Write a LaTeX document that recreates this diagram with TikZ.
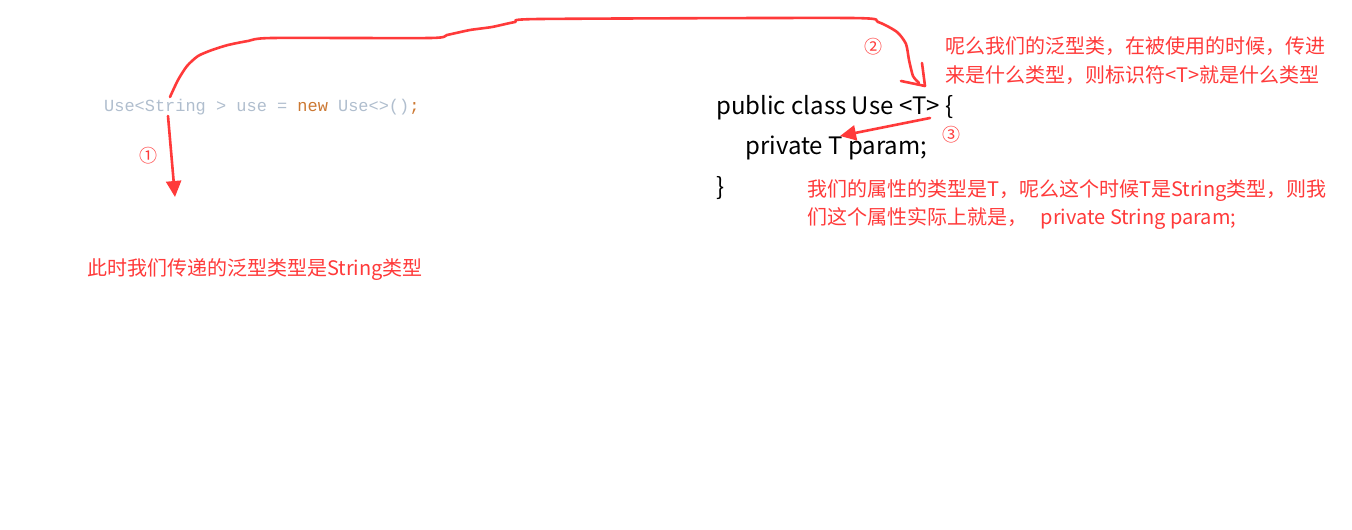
\documentclass[tikz,border=0pt]{standalone}
\usepackage{fontspec}
\newfontfamily\cjk{Noto Sans CJK SC}
\newfontfamily\codefont{Liberation Mono}
\usetikzlibrary{arrows.meta}
\definecolor{noteRed}{RGB}{255,58,58}
\definecolor{codeGray}{RGB}{176,190,206}
\definecolor{codeOrange}{RGB}{204,120,50}
\tikzset{
  note/.style={anchor=west, inner sep=0pt, text=noteRed, font=\cjk\fontsize{20}{22}\selectfont},
  javaline/.style={anchor=west, inner sep=0pt, text=black, font=\cjk\fontsize{24}{26}\selectfont},
  circnum/.style={inner sep=0pt, text=noteRed, font=\cjk\fontsize{18}{20}\selectfont},
  scribble/.style={draw=noteRed, line width=2.6pt, line cap=round, line join=round},
  redarrow/.style={draw=noteRed, line width=2.6pt, line cap=round, -{Triangle[length=16pt,width=15pt]}}
}
\begin{document}
\begin{tikzpicture}[x=1pt,y=-1pt]
\useasboundingbox (0,0) rectangle (1352,530);
\fill[white] (0,0) rectangle (1352,530);
% code line
\node[anchor=west, inner sep=0pt, font=\codefont\fontsize{16.95}{20}\selectfont] (use) at (104,107)
  {\textcolor{codeGray}{Use<String > use =\ }\textcolor{codeOrange}{new}\textcolor{codeGray}{\ Use<>()}\textcolor{codeOrange}{;}};
% java class
\node[javaline] (cls) at (716,108) {public class Use <T> \{};
\node[javaline] (fld) at (745,148) {private T param;};
\node[javaline] (end) at (716,188) {\}};
% notes
\node[note] (n2a) at (945,46) {呢么我们的泛型类，在被使用的时候，传进};
\node[note] (n2b) at (945,75) {来是什么类型，则标识符<T>就是什么类型};
\node[note] (n3a) at (807,191) {我们的属性的类型是T，呢么这个时候T是String类型，则我};
\node[note] (n3b) at (807,219) {们这个属性实际上就是，\ \ \ private String param;};
\node[note] (n1) at (87,270) {此时我们传递的泛型类型是String类型};
% circled numbers
\node[circnum] (c1) at (148,156) {①};
\node[circnum] (c2) at (873,47) {②};
\node[circnum] (c3) at (951,135) {③};
% arrow 1
\coordinate (a1s) at (168,116);
\coordinate (a1e) at (175,197);
\draw[redarrow] (a1s) -- (a1e);
% arrow 3
\coordinate (a3s) at (930,118);
\coordinate (a3e) at (840,136);
\draw[redarrow] (a3s) -- (a3e);
% hand-drawn curve 2
\coordinate (cs) at (170,97);
\coordinate (ce) at (919,83);
\draw[scribble] plot[smooth, tension=0.4] coordinates {(cs) (178,80) (187,66) (198,56) (212,50) (228,45) (248,41) (272,38) (430,38) (447,35) (470,30) (492,27) (515,22) (540,19) (850,18) (878,22) (897,32) (906,44) (909,60) (913,76) (ce)};
\coordinate (h1) at (901,81);
\coordinate (h2) at (925,86);
\coordinate (h3) at (922,63);
\draw[scribble] (h1) -- (h2) -- (h3);
\end{tikzpicture}
\end{document}
